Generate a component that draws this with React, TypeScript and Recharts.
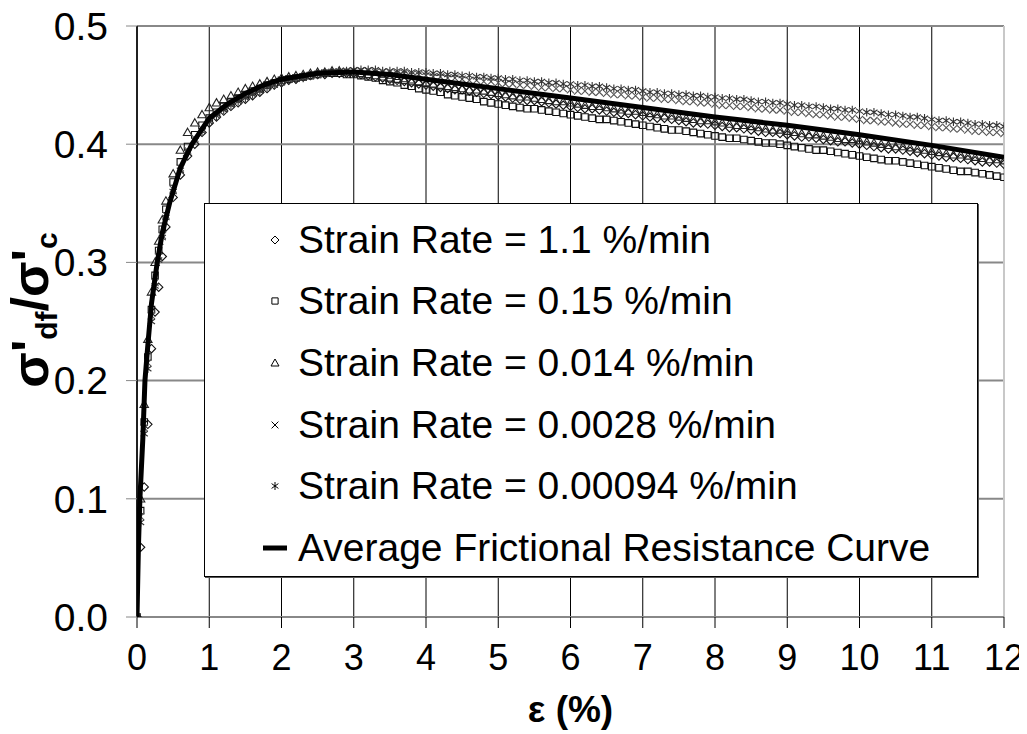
import React from 'react';
import { ScatterChart, Scatter, XAxis, YAxis, CartesianGrid, ReferenceLine } from 'recharts';

const strain = [
  0, 0.05, 0.1, 0.15, 0.2, 0.25, 0.3, 0.35,
  0.4, 0.5, 0.6, 0.7, 0.8, 0.9,
  1.0, 1.1, 1.2, 1.3, 1.4, 1.5, 1.6, 1.7, 1.8, 1.9,
  2.0, 2.1, 2.2, 2.3, 2.4, 2.5, 2.6, 2.7, 2.8, 2.9,
  3.0, 3.1, 3.2, 3.3, 3.4, 3.5, 3.6, 3.7, 3.8, 3.9,
  4.0, 4.1, 4.2, 4.3, 4.4, 4.5, 4.6, 4.7, 4.8, 4.9,
  5.0, 5.1, 5.2, 5.3, 5.4, 5.5, 5.6, 5.7, 5.8, 5.9,
  6.0, 6.1, 6.2, 6.3, 6.4, 6.5, 6.6, 6.7, 6.8, 6.9,
  7.0, 7.1, 7.2, 7.3, 7.4, 7.5, 7.6, 7.7, 7.8, 7.9,
  8.0, 8.1, 8.2, 8.3, 8.4, 8.5, 8.6, 8.7, 8.8, 8.9,
  9.0, 9.1, 9.2, 9.3, 9.4, 9.5, 9.6, 9.7, 9.8, 9.9,
  10.0, 10.1, 10.2, 10.3, 10.4, 10.5, 10.6, 10.7, 10.8, 10.9,
  11.0, 11.1, 11.2, 11.3, 11.4, 11.5, 11.6, 11.7, 11.8, 11.9,
  12.0,
];

// Strain Rate = 1.1 %/min (diamonds)
const rate1p1 = [
  0, 0.059, 0.11, 0.163, 0.227, 0.258, 0.279, 0.305,
  0.330, 0.355, 0.374, 0.390, 0.400, 0.410,
  0.418, 0.423, 0.428, 0.432, 0.435, 0.438, 0.441, 0.444, 0.447, 0.450,
  0.452, 0.454, 0.455, 0.457, 0.458, 0.459, 0.459, 0.460, 0.460, 0.460,
  0.460, 0.459, 0.458, 0.457, 0.456, 0.455, 0.454, 0.453, 0.452, 0.451,
  0.450, 0.449, 0.448, 0.447, 0.446, 0.446, 0.445, 0.444, 0.443, 0.442,
  0.441, 0.440, 0.439, 0.438, 0.437, 0.437, 0.436, 0.435, 0.434, 0.433,
  0.432, 0.431, 0.430, 0.430, 0.429, 0.428, 0.427, 0.426, 0.426, 0.425,
  0.424, 0.423, 0.422, 0.422, 0.421, 0.420, 0.419, 0.418, 0.418, 0.417,
  0.416, 0.415, 0.414, 0.414, 0.413, 0.412, 0.411, 0.410, 0.410, 0.409,
  0.408, 0.407, 0.406, 0.406, 0.405, 0.404, 0.403, 0.402, 0.402, 0.401,
  0.400, 0.399, 0.398, 0.397, 0.396, 0.396, 0.395, 0.394, 0.393, 0.392,
  0.391, 0.390, 0.389, 0.389, 0.388, 0.387, 0.386, 0.385, 0.385, 0.384,
  0.383,
];

// Strain Rate = 0.15 %/min (squares)
const rate0p15 = [
  0, 0.09, 0.165, 0.22, 0.26, 0.289, 0.31, 0.328,
  0.345, 0.368, 0.385, 0.398, 0.408, 0.416,
  0.422, 0.427, 0.432, 0.436, 0.439, 0.442, 0.445, 0.447, 0.450, 0.452,
  0.454, 0.455, 0.456, 0.457, 0.458, 0.459, 0.460, 0.460, 0.460, 0.459,
  0.459, 0.458, 0.457, 0.456, 0.454, 0.453, 0.452, 0.450, 0.449, 0.447,
  0.446, 0.445, 0.444, 0.442, 0.441, 0.440, 0.439, 0.438, 0.436, 0.435,
  0.434, 0.433, 0.432, 0.431, 0.430, 0.430, 0.429, 0.428, 0.427, 0.426,
  0.425, 0.424, 0.423, 0.422, 0.421, 0.421, 0.420, 0.419, 0.418, 0.417,
  0.416, 0.415, 0.414, 0.413, 0.412, 0.412, 0.411, 0.410, 0.409, 0.408,
  0.407, 0.406, 0.405, 0.405, 0.404, 0.403, 0.402, 0.401, 0.401, 0.400,
  0.399, 0.398, 0.397, 0.396, 0.395, 0.395, 0.394, 0.393, 0.392, 0.391,
  0.390, 0.389, 0.388, 0.387, 0.386, 0.386, 0.385, 0.384, 0.383, 0.382,
  0.381, 0.380, 0.379, 0.378, 0.377, 0.377, 0.376, 0.375, 0.374, 0.373,
  0.372,
];

// Strain Rate = 0.014 %/min (triangles)
const rate0p014 = [
  0, 0.10, 0.18, 0.235, 0.275, 0.30, 0.318, 0.336,
  0.352, 0.375, 0.395, 0.410, 0.418, 0.425,
  0.431, 0.435, 0.438, 0.441, 0.444, 0.447, 0.449, 0.451, 0.453, 0.455,
  0.456, 0.457, 0.458, 0.459, 0.460, 0.461, 0.461, 0.462, 0.462, 0.461,
  0.461, 0.460, 0.459, 0.458, 0.457, 0.456, 0.455, 0.454, 0.453, 0.453,
  0.452, 0.451, 0.450, 0.449, 0.448, 0.447, 0.446, 0.446, 0.445, 0.444,
  0.443, 0.442, 0.441, 0.440, 0.440, 0.439, 0.438, 0.437, 0.436, 0.436,
  0.435, 0.434, 0.433, 0.432, 0.432, 0.431, 0.430, 0.429, 0.428, 0.428,
  0.427, 0.426, 0.425, 0.424, 0.424, 0.423, 0.422, 0.421, 0.420, 0.420,
  0.419, 0.418, 0.417, 0.416, 0.416, 0.415, 0.414, 0.413, 0.412, 0.412,
  0.411, 0.410, 0.409, 0.408, 0.408, 0.407, 0.406, 0.405, 0.404, 0.404,
  0.403, 0.402, 0.401, 0.400, 0.399, 0.398, 0.398, 0.397, 0.396, 0.395,
  0.394, 0.393, 0.392, 0.391, 0.391, 0.390, 0.389, 0.388, 0.387, 0.387,
  0.386,
];

// Strain Rate = 0.0028 %/min (crosses)
const rate0p0028 = [
  0, 0.085, 0.16, 0.215, 0.255, 0.283, 0.305, 0.323,
  0.340, 0.362, 0.380, 0.395, 0.405, 0.413,
  0.421, 0.426, 0.430, 0.434, 0.437, 0.440, 0.443, 0.446, 0.449, 0.451,
  0.453, 0.455, 0.456, 0.457, 0.458, 0.459, 0.460, 0.461, 0.461, 0.462,
  0.462, 0.462, 0.462, 0.461, 0.461, 0.461, 0.460, 0.460, 0.459, 0.459,
  0.458, 0.457, 0.457, 0.456, 0.456, 0.455, 0.454, 0.454, 0.453, 0.453,
  0.452, 0.451, 0.451, 0.450, 0.450, 0.449, 0.448, 0.448, 0.447, 0.447,
  0.446, 0.445, 0.445, 0.444, 0.444, 0.443, 0.442, 0.442, 0.441, 0.441,
  0.440, 0.439, 0.439, 0.438, 0.438, 0.437, 0.436, 0.436, 0.435, 0.435,
  0.434, 0.433, 0.433, 0.432, 0.432, 0.431, 0.430, 0.430, 0.429, 0.429,
  0.428, 0.427, 0.427, 0.426, 0.425, 0.425, 0.424, 0.423, 0.423, 0.422,
  0.421, 0.420, 0.420, 0.419, 0.419, 0.418, 0.417, 0.417, 0.416, 0.416,
  0.415, 0.414, 0.414, 0.413, 0.413, 0.412, 0.411, 0.411, 0.410, 0.410,
  0.409,
];

// Strain Rate = 0.00094 %/min (asterisks)
const rate0p00094 = [
  0, 0.08, 0.155, 0.21, 0.25, 0.28, 0.302, 0.321,
  0.338, 0.360, 0.378, 0.393, 0.403, 0.411,
  0.419, 0.424, 0.429, 0.433, 0.436, 0.439, 0.442, 0.445, 0.448, 0.450,
  0.452, 0.454, 0.455, 0.456, 0.458, 0.459, 0.460, 0.461, 0.462, 0.462,
  0.463, 0.463, 0.463, 0.463, 0.462, 0.462, 0.462, 0.462, 0.461, 0.461,
  0.461, 0.460, 0.460, 0.459, 0.459, 0.458, 0.458, 0.457, 0.457, 0.456,
  0.456, 0.455, 0.455, 0.454, 0.454, 0.453, 0.453, 0.452, 0.452, 0.451,
  0.451, 0.450, 0.450, 0.449, 0.449, 0.448, 0.447, 0.447, 0.446, 0.446,
  0.445, 0.444, 0.444, 0.443, 0.443, 0.442, 0.442, 0.441, 0.441, 0.440,
  0.440, 0.439, 0.439, 0.438, 0.438, 0.437, 0.436, 0.436, 0.435, 0.435,
  0.434, 0.433, 0.433, 0.432, 0.432, 0.431, 0.430, 0.430, 0.429, 0.429,
  0.428, 0.427, 0.427, 0.426, 0.425, 0.425, 0.424, 0.423, 0.423, 0.422,
  0.421, 0.420, 0.420, 0.419, 0.419, 0.418, 0.417, 0.417, 0.416, 0.416,
  0.415,
];

// Average Frictional Resistance Curve
const avgStrain = [0, 0.02, 0.04, 0.08, 0.11, 0.15, 0.2, 0.28, 0.35, 0.45, 0.6, 0.76, 1.0, 1.25, 1.5, 1.75, 2.0, 2.5, 3.0, 3.5, 4, 5, 6, 7, 8, 9, 10, 11, 12];
const avgRatio = [0, 0.06, 0.1, 0.15, 0.2, 0.23, 0.265, 0.3, 0.325, 0.35, 0.38, 0.4, 0.422, 0.434, 0.443, 0.45, 0.455, 0.46, 0.461, 0.459, 0.455, 0.447, 0.439, 0.431, 0.423, 0.416, 0.408, 0.399, 0.389];

const xTicks = [0, 1, 2, 3, 4, 5, 6, 7, 8, 9, 10, 11, 12];
const yTicks = [0, 0.1, 0.2, 0.3, 0.4, 0.5];

const seriesNames = [
  'Strain Rate = 1.1 %/min',
  'Strain Rate = 0.15 %/min',
  'Strain Rate = 0.014 %/min',
  'Strain Rate = 0.0028 %/min',
  'Strain Rate = 0.00094 %/min',
];
const avgName = 'Average Frictional Resistance Curve';
const markerKinds = ['diamond', 'square', 'triangle', 'cross', 'star'];
const seriesValues = [rate1p1, rate0p15, rate0p014, rate0p0028, rate0p00094];

const FONT = '"Liberation Sans", Arial, sans-serif';

function markerPath(kind: string, cx: number, cy: number, s: number) {
  switch (kind) {
    case 'diamond':
      return `M${cx},${cy - s}L${cx + s},${cy}L${cx},${cy + s}L${cx - s},${cy}Z`;
    case 'square':
      return `M${cx - s * 0.78},${cy - s * 0.78}h${s * 1.56}v${s * 1.56}h${-s * 1.56}Z`;
    case 'triangle':
      return `M${cx},${cy - s}L${cx + s},${cy + s * 0.75}L${cx - s},${cy + s * 0.75}Z`;
    case 'cross':
      return `M${cx - s * 0.85},${cy - s * 0.85}L${cx + s * 0.85},${cy + s * 0.85}M${cx + s * 0.85},${cy - s * 0.85}L${cx - s * 0.85},${cy + s * 0.85}`;
    default:
      return `M${cx - s * 0.85},${cy - s * 0.6}L${cx + s * 0.85},${cy + s * 0.6}M${cx + s * 0.85},${cy - s * 0.6}L${cx - s * 0.85},${cy + s * 0.6}M${cx},${cy - s}L${cx},${cy + s}`;
  }
}

const makeShape = (kind: string, color: string) => (props: any) => {
  const { cx, cy } = props;
  if (cx == null || cy == null) return <g />;
  return <path d={markerPath(kind, cx, cy, 4.2)} fill="none" stroke={color} strokeWidth={1.1} />;
};

const markerColors = ['#111', '#111', '#222', '#555', '#333'];

const YLabel = () => {
  const cx = 40;
  const cy = 302;
  return (
    <text
      x={cx}
      y={cy}
      transform={`rotate(-90, ${cx}, ${cy})`}
      textAnchor="middle"
      fontFamily={FONT}
      fontWeight="bold"
      fontSize={52}
      fill="#000"
    >
      <tspan>σ'</tspan>
      <tspan fontSize={30} dy={9}>df</tspan>
      <tspan dy={-9}>/σ'</tspan>
      <tspan fontSize={30} dy={9}>c</tspan>
    </text>
  );
};

const XLabel = (props: any) => {
  const vb = props.viewBox || {};
  return (
    <text
      x={vb.x + vb.width / 2}
      y={714}
      textAnchor="middle"
      fontFamily={FONT}
      fontWeight="bold"
      fontSize={37}
      fill="#000"
    >
      ε (%)
    </text>
  );
};

function LegendMarker({ kind }: { kind: string }) {
  if (kind === 'line') {
    return (
      <svg width={30} height={20} style={{ display: 'block' }}>
        <line x1={3} y1={10} x2={27} y2={10} stroke="#000" strokeWidth={5} />
      </svg>
    );
  }
  return (
    <svg width={30} height={20} style={{ display: 'block' }}>
      <path d={markerPath(kind, 15, 10, 4)} fill="none" stroke="#000" strokeWidth={1} />
    </svg>
  );
}

export default function App() {
  const seriesData = seriesValues.map((vals) => strain.map((x, i) => ({ x, y: vals[i] })));
  const avgData = avgStrain.map((x, i) => ({ x, y: avgRatio[i] }));
  const legendRows = [
    ...seriesNames.map((n, i) => ({ name: n, kind: markerKinds[i] })),
    { name: avgName, kind: 'line' },
  ];

  return (
    <div style={{ position: 'relative', width: 1019, height: 724, fontFamily: FONT }}>
      <ScatterChart width={1019} height={724} margin={{ top: 18, right: 23, bottom: 45, left: 0 }}>
        <CartesianGrid horizontal={false} stroke="#000" strokeWidth={1} />
        <CartesianGrid vertical={false} stroke="#888" strokeWidth={2} />
        <ReferenceLine x={12} stroke="#c8c8c8" strokeWidth={2} />
        <XAxis
          type="number"
          dataKey="x"
          domain={[0, 12]}
          ticks={xTicks}
          allowDataOverflow
          interval={0}
          tickSize={11}
          tickMargin={16}
          tick={{ fill: '#000', fontSize: 36, fontFamily: FONT }}
          tickLine={{ stroke: '#000' }}
          axisLine={{ stroke: '#888', strokeWidth: 2 }}
          height={70}
          label={<XLabel />}
        />
        <YAxis
          type="number"
          dataKey="y"
          domain={[0, 0.5]}
          ticks={yTicks}
          allowDataOverflow
          interval={0}
          width={129}
          tickSize={11}
          tickMargin={18}
          tickFormatter={(v: number) => v.toFixed(1)}
          tick={{ fill: '#000', fontSize: 39, fontFamily: FONT }}
          tickLine={{ stroke: '#888' }}
          axisLine={{ stroke: '#000', strokeWidth: 1.5 }}
          label={<YLabel />}
        />
        {seriesData.map((d, i) => (
          <Scatter
            key={seriesNames[i]}
            name={seriesNames[i]}
            data={d}
            isAnimationActive={false}
            shape={makeShape(markerKinds[i], markerColors[i])}
          />
        ))}
        <Scatter
          name={avgName}
          data={avgData}
          isAnimationActive={false}
          line={{ stroke: '#000', strokeWidth: 5 }}
          lineType="joint"
          shape={() => <g />}
        />
      </ScatterChart>
      <div
        style={{
          position: 'absolute',
          left: 196,
          top: 195,
          width: 774,
          height: 374,
          background: '#fff',
          border: '1px solid #000',
          boxShadow: '1px 1px 0 #555',
          boxSizing: 'border-box',
          paddingTop: 5,
        }}
      >
        {legendRows.map((r) => (
          <div
            key={r.name}
            style={{
              display: 'flex',
              alignItems: 'center',
              height: 61.6,
              paddingLeft: 55,
              fontSize: 39,
              fontFamily: FONT,
              color: '#000',
              whiteSpace: 'nowrap',
            }}
          >
            <LegendMarker kind={r.kind} />
            <span style={{ marginLeft: 8 }}>{r.name}</span>
          </div>
        ))}
      </div>
    </div>
  );
}
